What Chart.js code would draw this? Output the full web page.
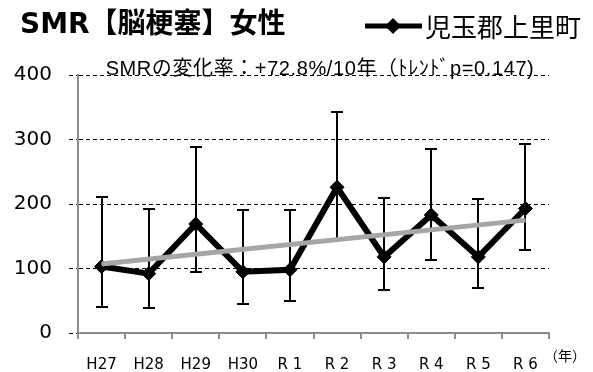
<!DOCTYPE html>
<html><head><meta charset="utf-8">
<script src="https://cdn.jsdelivr.net/npm/chart.js@4/dist/chart.umd.min.js"></script>
<style>html,body{margin:0;padding:0;background:#fff;overflow:hidden}#wrap{position:relative;width:593px;height:372px}</style>
</head><body><div id="wrap"><canvas id="c" width="593" height="372"></canvas></div>
<script>
const categories = ['H27','H28','H29','H30','R 1','R 2','R 3','R 4','R 5','R 6'];
const smrValues = [103,92,169,95,98,226,118,183,118,193];
const ciUpper = [211,192,288,190,190,342,209,285,207,293];
const ciLower = [41,39,95,45,49,146,66,113,70,128];
const trendValues = [107,null,null,null,null,null,null,null,null,175];
const yTicks = [0,100,200,300,400];
const titleText = 'SMR【脳梗塞】女性';
const seriesName = '児玉郡上里町';
const noteText = 'SMRの変化率：+72.8%/10年（ﾄﾚﾝﾄﾞp=0.147)';
const unitText = '（年）';

const AXIS_GRAY = '#8c8c8c';

const errorBars = {
  id: 'errorBars',
  beforeDatasetsDraw(chart) {
    const ctx = chart.ctx, x = chart.scales.x, y = chart.scales.y;
    ctx.save();
    ctx.strokeStyle = '#000';
    ctx.lineWidth = 2;
    categories.forEach((c, i) => {
      const px = Math.round(x.getPixelForValue(i));
      const yt = Math.round(y.getPixelForValue(ciUpper[i]));
      const yb = Math.round(y.getPixelForValue(ciLower[i]));
      ctx.beginPath();
      ctx.moveTo(px, yt); ctx.lineTo(px, yb);
      ctx.moveTo(px - 6, yt); ctx.lineTo(px + 6, yt);
      ctx.moveTo(px - 6, yb); ctx.lineTo(px + 6, yb);
      ctx.stroke();
    });
    ctx.restore();
  }
};

const texts = {
  id: 'texts',
  afterDraw(chart) {
    const ctx = chart.ctx;
    ctx.save();
    ctx.fillStyle = '#000';
    ctx.textAlign = 'left';
    ctx.textBaseline = 'alphabetic';
    ctx.font = "bold 28px 'DejaVu Sans','Noto Sans CJK JP'";
    ctx.fillText(titleText, 20, 33);
    // legend
    ctx.strokeStyle = '#000';
    ctx.lineWidth = 5;
    ctx.beginPath(); ctx.moveTo(365, 26); ctx.lineTo(422, 26); ctx.stroke();
    ctx.beginPath();
    ctx.moveTo(393, 18); ctx.lineTo(401, 26); ctx.lineTo(393, 34); ctx.lineTo(385, 26); ctx.closePath();
    ctx.fill();
    ctx.font = "26px 'Noto Sans CJK JP'";
    ctx.textBaseline = 'middle';
    ctx.fillText(seriesName, 425, 27);
    // note
    ctx.font = "20px 'Liberation Sans','Noto Sans CJK JP'";
    if ('letterSpacing' in ctx) ctx.letterSpacing = '0.6px';
    ctx.textAlign = 'center';
    ctx.textBaseline = 'alphabetic';
    ctx.fillText(noteText, 320, 75);
    if ('letterSpacing' in ctx) ctx.letterSpacing = '0px';
    // unit
    ctx.font = "14px 'Noto Sans CJK JP'";
    ctx.textAlign = 'left';
    ctx.textBaseline = 'middle';
    ctx.fillText(unitText, 544, 356);
    ctx.restore();
  }
};

new Chart(document.getElementById('c'), {
  type: 'line',
  data: {
    labels: categories,
    datasets: [
      {
        label: seriesName,
        data: smrValues,
        borderColor: '#000',
        backgroundColor: '#000',
        borderWidth: 6,
        pointStyle: 'rectRot',
        pointRadius: 7,
        pointBackgroundColor: '#000',
        pointBorderColor: '#000',
        pointBorderWidth: 1,
        tension: 0,
        order: 2
      },
      {
        label: 'trend',
        data: trendValues,
        spanGaps: true,
        borderColor: '#a6a6a6',
        borderWidth: 5,
        pointRadius: 0,
        tension: 0,
        order: 1
      }
    ]
  },
  options: {
    responsive: false,
    devicePixelRatio: 1,
    animation: false,
    layout: { padding: { top: 75, right: 44, bottom: 0, left: 0 } },
    plugins: { legend: { display: false }, title: { display: false }, tooltip: { enabled: false } },
    scales: {
      x: {
        type: 'category',
        offset: true,
        afterFit(s) { s.height = 39; },
        grid: { offset: true, drawOnChartArea: false, drawTicks: true, tickLength: 6, color: AXIS_GRAY, lineWidth: 2 },
        border: { color: AXIS_GRAY, width: 2 },
        ticks: { color: '#000', font: { family: "'DejaVu Sans'", size: 15 }, padding: 17, maxRotation: 0, autoSkip: false }
      },
      y: {
        min: 0, max: 400,
        afterFit(s) { s.width = 78; },
        afterBuildTicks(s) { s.ticks = yTicks.map(v => ({ value: v })); },
        grid: {
          color: '#000',
          lineWidth: 1,
          tickLength: 9,
          borderDash: [4, 3],
          tickBorderDash: [4, 3]
        },
        border: { color: AXIS_GRAY, width: 2, dash: [4, 3] },
        ticks: { color: '#000', font: { family: "'DejaVu Sans'", size: 20 }, padding: 17 }
      }
    }
  },
  plugins: [errorBars, texts]
});
</script>
</body></html>
